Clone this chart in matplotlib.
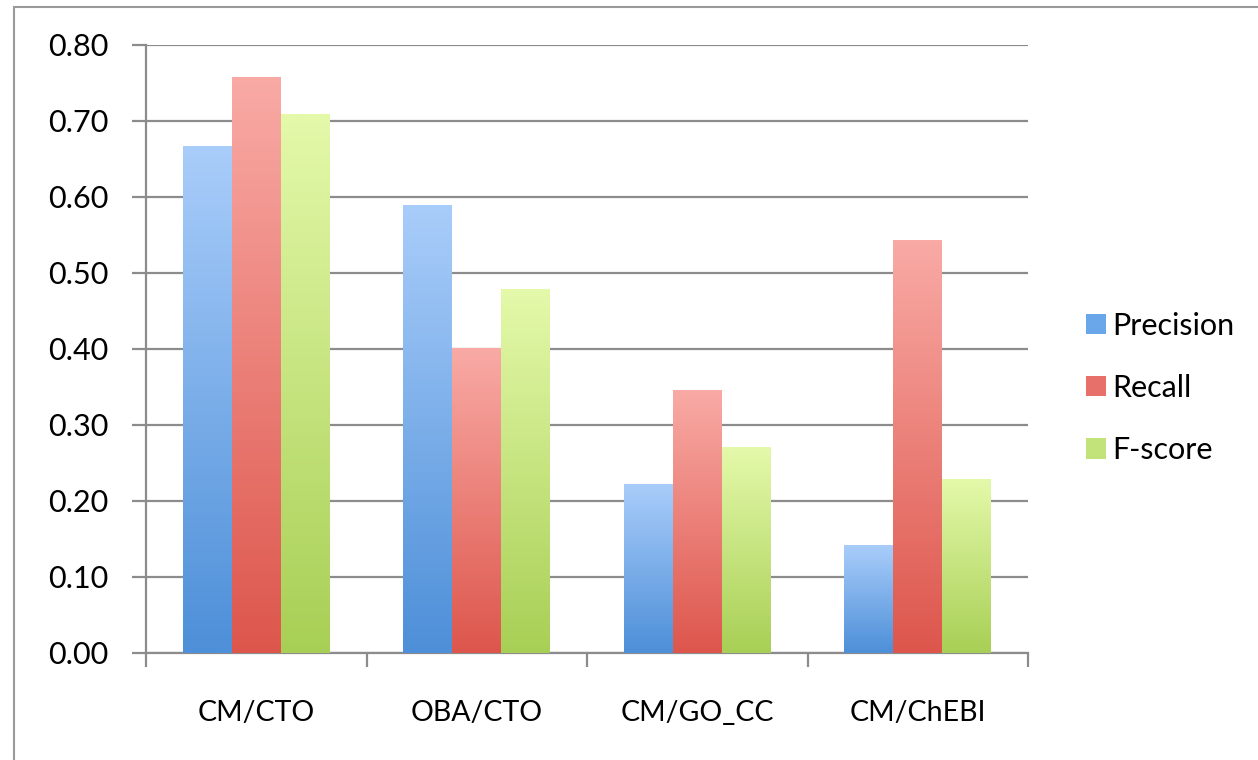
import numpy as np
import matplotlib
matplotlib.use("Agg")
import matplotlib.pyplot as plt
from matplotlib.colors import LinearSegmentedColormap
from matplotlib.patches import Rectangle, Patch

# данные
categories = ['CM/CTO', 'OBA/CTO', 'CM/GO_CC', 'CM/ChEBI']
series_names = ['Precision', 'Recall', 'F-score']
precision = [0.666, 0.589, 0.222, 0.142]
recall = [0.757, 0.401, 0.346, 0.543]
fscore = [0.708, 0.478, 0.270, 0.228]
y_ticks = [0.0, 0.1, 0.2, 0.3, 0.4, 0.5, 0.6, 0.7, 0.8]

# цвета градиента: (верх, низ)
grad_colors = [('#a9cdfa', '#4d8fd8'),
               ('#f9aaa5', '#dd564c'),
               ('#e4f9aa', '#a8cf55')]
legend_colors = ['#6aa6ea', '#e8706a', '#c2e27a']

plt.rcParams['font.family'] = ['Lato', 'DejaVu Sans']

fig = plt.figure(figsize=(12.58, 7.6), dpi=100)
ax = fig.add_axes([146 / 1258, 1 - 653 / 760, (1028 - 146) / 1258, (653 - 45) / 760])

x = np.arange(len(categories))
w = 1 / 4.5
grad = np.linspace(1, 0, 256).reshape(-1, 1)

for i, vals in enumerate([precision, recall, fscore]):
    bars = ax.bar(x + (i - 1) * w, vals, width=w, color='none', edgecolor='none')
    cmap = LinearSegmentedColormap.from_list('g%d' % i, [grad_colors[i][1], grad_colors[i][0]])
    for b in bars:
        x0, y0 = b.get_x(), b.get_y()
        ax.imshow(grad, cmap=cmap, extent=[x0, x0 + b.get_width(), y0, y0 + b.get_height()],
                  aspect='auto', origin='upper', zorder=3, vmin=0, vmax=1)

ax.set_xlim(-0.5, len(categories) - 0.5)
ax.set_ylim(0, 0.8)

ax.set_yticks(y_ticks)
ax.set_yticklabels(['%.2f' % v for v in y_ticks], fontsize=22)
ax.yaxis.grid(True, color='#8c8c8c', linewidth=1.6, zorder=0)
ax.set_axisbelow(True)

# деления между категориями, подписи по центру
ax.set_xticks(np.arange(-0.5, len(categories), 1.0))
ax.set_xticklabels([])
ax.set_xticks(x, minor=True)
ax.set_xticklabels(categories, minor=True, fontsize=20.5)
ax.tick_params(axis='x', which='minor', length=0, pad=34)
ax.tick_params(axis='x', which='major', length=10, color='#8c8c8c', width=1.6)
ax.tick_params(axis='y', length=10, color='#8c8c8c', width=1.6, pad=17)

for s in ['top', 'right']:
    ax.spines[s].set_visible(False)
for s in ['left', 'bottom']:
    ax.spines[s].set_color('#8c8c8c')
    ax.spines[s].set_linewidth(1.6)

handles = [Patch(facecolor=c, edgecolor='none') for c in legend_colors]
fig.legend(handles, series_names, loc='center left', bbox_to_anchor=(1086 / 1258, 1 - 388 / 760),
           frameon=False, fontsize=22, handlelength=0.65, handleheight=0.65,
           handletextpad=0.2, labelspacing=1.12, borderpad=0, borderaxespad=0)

# рамка вокруг диаграммы
fig.patches.append(Rectangle((14 / 1258, -0.1), 1.2, 1.1 - 7 / 760, transform=fig.transFigure,
                             fill=False, edgecolor='#9a9a9a', linewidth=1.5))

fig.savefig('out.png', dpi=100)
